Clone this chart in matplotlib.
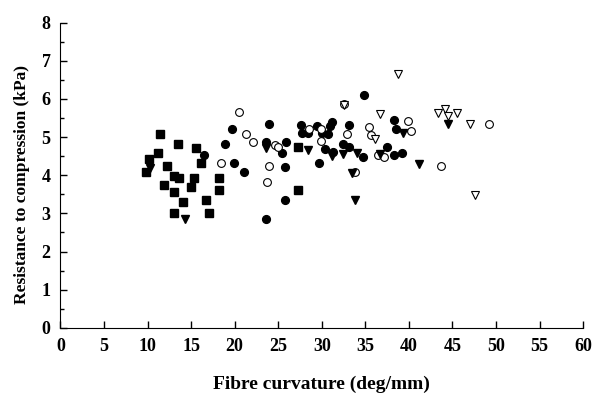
import numpy as np
import matplotlib
matplotlib.use("Agg")
import matplotlib.pyplot as plt
from matplotlib.ticker import MultipleLocator

# filled squares
sq_x = [11.45, 13.48, 15.58, 11.25, 10.18, 16.15, 12.25, 9.84, 13.09, 13.66, 15.38,
        18.19, 11.94, 14.97, 13.09, 18.19, 14.09, 16.76, 13.09, 17.07, 27.25, 27.25]
sq_y = [5.07, 4.83, 4.72, 4.58, 4.42, 4.32, 4.23, 4.08, 3.98, 3.93, 3.93,
        3.93, 3.74, 3.69, 3.55, 3.60, 3.30, 3.35, 3.00, 3.00, 4.73, 3.60]

# filled circles
fc_x = [16.5, 18.85, 19.65, 19.9, 21.1, 23.9, 23.6, 23.6, 25.9, 25.45, 25.8, 25.8,
        27.6, 27.75, 28.4, 29.4, 29.7, 30.0, 30.7, 31.0, 31.2, 30.4, 31.3, 32.4,
        33.1, 33.1, 34.9, 34.7, 37.5, 38.3, 39.2, 38.35, 38.5]
fc_y = [4.53, 4.83, 5.22, 4.33, 4.09, 5.35, 2.86, 4.86, 4.87, 4.57, 4.21, 3.35,
        5.32, 5.10, 5.10, 5.28, 4.33, 5.10, 5.08, 5.28, 5.40, 4.68, 4.60, 4.83,
        5.32, 4.73, 6.10, 4.47, 4.73, 4.52, 4.57, 5.45, 5.21]

# open circles
oc_x = [18.4, 20.55, 21.3, 22.1, 24.65, 24.95, 23.95, 23.75, 28.5, 29.9, 29.9,
        32.9, 32.6, 33.8, 35.4, 35.7, 39.9, 40.3, 36.5, 37.2, 43.7, 49.2]
oc_y = [4.32, 5.65, 5.07, 4.87, 4.79, 4.73, 4.24, 3.83, 5.21, 5.21, 4.91,
        5.07, 5.86, 4.08, 5.26, 5.06, 5.41, 5.17, 4.53, 4.47, 4.24, 5.35]

# filled down-triangles
ft_x = [10.3, 14.35, 23.6, 28.4, 31.2, 32.4, 34.1, 33.5, 33.8, 36.7, 39.3, 41.2, 44.5]
ft_y = [4.19, 2.85, 4.71, 4.66, 4.50, 4.56, 4.59, 4.06, 3.34, 4.56, 5.10, 4.30, 5.34]

# open down-triangles
ot_x = [32.6, 38.7, 36.7, 36.1, 43.4, 44.2, 44.5, 45.5, 47.0, 47.6]
ot_y = [5.85, 6.66, 5.60, 4.95, 5.63, 5.74, 5.55, 5.63, 5.35, 3.47]

plt.rcParams["font.family"] = ["Liberation Serif", "DejaVu Serif"]
plt.rcParams["font.weight"] = "bold"

fig = plt.figure(figsize=(5.92, 3.96), dpi=100)
ax = fig.add_axes([0.102, 0.172, 0.883, 0.771])

ms = 5.6
ax.plot(sq_x, sq_y, "s", ms=ms, color="black", linestyle="none")
ax.plot(fc_x, fc_y, "o", ms=ms, color="black", linestyle="none")
ax.plot(oc_x, oc_y, "o", ms=ms, mfc="white", mec="black", mew=0.8, linestyle="none")
ax.plot(ft_x, ft_y, "v", ms=ms + 0.6, color="black", linestyle="none")
ax.plot(ot_x, ot_y, "v", ms=ms + 0.6, mfc="white", mec="black", mew=0.8, linestyle="none")

ax.set_xlim(0, 60)
ax.set_ylim(0, 8)
ax.xaxis.set_major_locator(MultipleLocator(5))
ax.yaxis.set_major_locator(MultipleLocator(1))
ax.yaxis.set_minor_locator(MultipleLocator(0.5))
ax.spines["top"].set_visible(False)
ax.spines["right"].set_visible(False)
ax.tick_params(axis="both", which="major", direction="in", length=5, width=1,
               labelsize=13, pad=7)
ax.tick_params(axis="y", which="minor", direction="in", length=3, width=1)
for lab in ax.get_xticklabels() + ax.get_yticklabels():
    lab.set_fontweight("bold")

ax.set_xlabel("Fibre curvature (deg/mm)", fontsize=14, fontweight="bold", labelpad=15)
ax.set_ylabel("Resistance to compression (kPa)", fontsize=12.5, fontweight="bold")
ax.yaxis.set_label_coords(-0.058, 0.47)

fig.savefig("out.png", dpi=100)
